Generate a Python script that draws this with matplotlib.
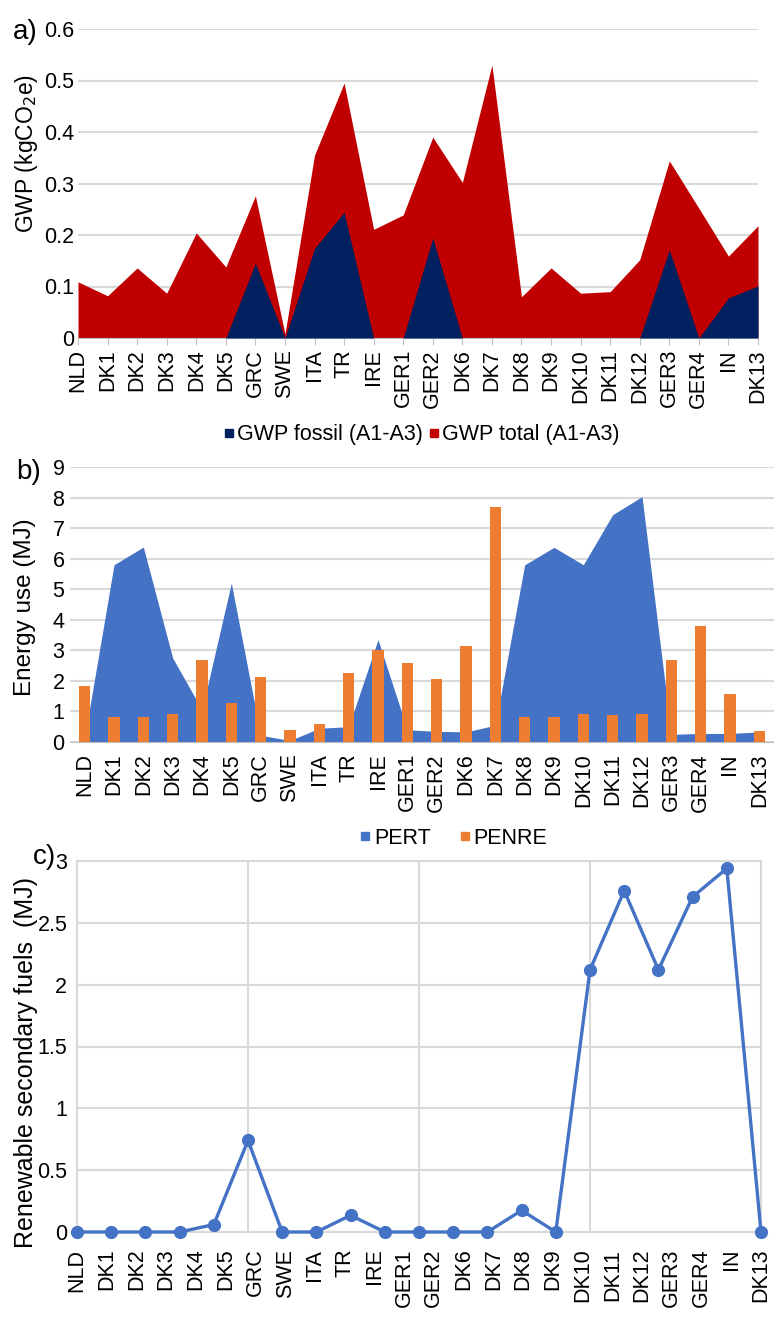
import numpy as np
import matplotlib
matplotlib.use("Agg")
import matplotlib.pyplot as plt
from matplotlib.lines import Line2D

plt.rcParams['font.family'] = ['Liberation Sans', 'DejaVu Sans']

# categories (24 plants)
sites = ["NLD", "DK1", "DK2", "DK3", "DK4", "DK5", "GRC", "SWE", "ITA", "TR",
         "IRE", "GER1", "GER2", "DK6", "DK7", "DK8", "DK9", "DK10", "DK11",
         "DK12", "GER3", "GER4", "IN", "DK13"]

# a) GWP (kgCO2e)
gwp_total = [0.109, 0.082, 0.136, 0.087, 0.204, 0.138, 0.276, 0.008, 0.355, 0.495,
             0.211, 0.239, 0.390, 0.302, 0.530, 0.080, 0.136, 0.087, 0.090, 0.152,
             0.344, 0.252, 0.159, 0.218]
gwp_fossil = [0, 0, 0, 0, 0, 0, 0.145, 0, 0.174, 0.244,
              0, 0, 0.194, 0, 0, 0, 0, 0, 0, 0,
              0.171, 0, 0.078, 0.101]

# b) energy use (MJ)
pert = [0.15, 5.8, 6.38, 2.75, 1.05, 5.2, 0.22, 0.05, 0.45, 0.5,
        3.35, 0.4, 0.35, 0.33, 0.55, 5.8, 6.37, 5.8, 7.44, 8.03,
        0.25, 0.28, 0.28, 0.33]
penre = [1.84, 0.82, 0.83, 0.93, 2.69, 1.28, 2.13, 0.39, 0.59, 2.26,
         3.0, 2.6, 2.05, 3.15, 7.7, 0.82, 0.82, 0.92, 0.9, 0.93,
         2.7, 3.8, 1.57, 0.37]

# c) renewable secondary fuels (MJ), 21 points on the chart
rsf = [0, 0, 0, 0, 0.06, 0.74, 0, 0, 0.135, 0, 0, 0, 0, 0.175, 0,
       2.12, 2.76, 2.12, 2.71, 2.94, 0]

RED = "#C00000"
NAVY = "#002060"
BLUE = "#4472C4"
ORANGE = "#ED7D31"
GRID = "#D9D9D9"
FS = 15.5

W, H = 774, 1325
fig = plt.figure(figsize=(W / 100, H / 100), dpi=100)


def box(l, t, r, b):
    return [l / W, 1 - b / H, (r - l) / W, (b - t) / H]


x = np.arange(len(sites))

# ---- panel a
ax = fig.add_axes(box(78, 29, 758, 338))
ax.fill_between(x, gwp_total, color=RED, lw=0, zorder=2)
ax.fill_between(x, gwp_fossil, color=NAVY, lw=0, zorder=3)
ax.set_xlim(0, len(sites) - 1)
ax.set_ylim(0, 0.6)
ax.set_yticks([0, 0.1, 0.2, 0.3, 0.4, 0.5, 0.6])
ax.set_yticklabels(["0", "0.1", "0.2", "0.3", "0.4", "0.5", "0.6"])
ax.set_xticks(x)
ax.set_xticklabels(sites, rotation=90)
ax.grid(axis='y', color=GRID, lw=1.5, zorder=0)
for s in ['left', 'right', 'top']:
    ax.spines[s].set_visible(False)
ax.spines['bottom'].set_color("#BFBFBF")
ax.tick_params(axis='x', length=5, color="#BFBFBF", labelsize=FS, pad=3)
ax.tick_params(axis='y', length=0, labelsize=FS, pad=3)
ax.set_axisbelow(True)
fig.text(27 / W, 1 - 154 / H, "GWP (kgCO$_2$e)", rotation=90, fontsize=16.5,
         ha='center', va='center')
fig.text(13 / W, 1 - 32 / H, "a)", fontsize=20, ha='left', va='center')
fig.legend(handles=[Line2D([], [], ls='', marker='s', ms=6, color=NAVY),
                    Line2D([], [], ls='', marker='s', ms=6, color=RED)],
           labels=["GWP fossil (A1-A3)", "GWP total (A1-A3)"],
           loc='center', bbox_to_anchor=(421 / W, 1 - 435 / H), ncol=2,
           frameon=False, fontsize=FS, handlelength=0.6, handletextpad=0.1,
           columnspacing=0.2, borderpad=0)

# ---- panel b
ax = fig.add_axes(box(70, 467, 774, 742))
ax.fill_between(x, pert, color=BLUE, lw=0, zorder=2)
ax.bar(x, penre, width=0.38, color=ORANGE, zorder=3)
ax.set_xlim(-0.5, len(sites) - 0.5)
ax.set_ylim(0, 9)
ax.set_yticks(range(10))
ax.set_xticks(x)
ax.set_xticklabels(sites, rotation=90)
ax.grid(axis='y', color=GRID, lw=1.5, zorder=0)
for s in ['left', 'right', 'top']:
    ax.spines[s].set_visible(False)
ax.spines['bottom'].set_color("#BFBFBF")
ax.tick_params(axis='x', length=0, labelsize=FS, pad=8)
ax.tick_params(axis='y', length=0, labelsize=FS, pad=4)
ax.set_axisbelow(True)
fig.text(25 / W, 1 - 607 / H, "Energy use (MJ)", rotation=90, fontsize=17.5,
         ha='center', va='center')
fig.text(16 / W, 1 - 472 / H, "b)", fontsize=20, ha='left', va='center')
fig.legend(handles=[Line2D([], [], ls='', marker='s', ms=6, color=BLUE),
                    Line2D([], [], ls='', marker='s', ms=6, color=ORANGE)],
           labels=["PERT", "PENRE"],
           loc='center', bbox_to_anchor=(453 / W, 1 - 838 / H), ncol=2,
           frameon=False, fontsize=FS, handlelength=0.6, handletextpad=0.1,
           columnspacing=1.3, borderpad=0)

# ---- panel c
ax = fig.add_axes(box(77, 861, 761, 1232))
xc = np.arange(len(rsf))
ax.plot(xc, rsf, color=BLUE, lw=2.4, marker='o', ms=8.5, clip_on=False, zorder=3)
ax.set_xlim(0, len(rsf) - 1)
ax.set_ylim(0, 3)
ax.set_yticks([0, 0.5, 1, 1.5, 2, 2.5, 3])
ax.set_yticklabels(["0", "0.5", "1", "1.5", "2", "2.5", "3"])
ax.set_xticks(np.linspace(0, len(rsf) - 1, len(sites)))
ax.set_xticklabels(sites, rotation=90)
ax.set_xticks([5, 10, 15], minor=True)
ax.grid(axis='y', which='major', color=GRID, lw=1.5, zorder=0)
ax.grid(axis='x', which='minor', color=GRID, lw=1.5, zorder=0)
for s in ax.spines.values():
    s.set_color(GRID)
    s.set_linewidth(1.5)
ax.tick_params(axis='x', which='both', length=0, labelsize=FS, pad=12)
ax.tick_params(axis='y', length=0, labelsize=FS, pad=7)
ax.set_axisbelow(True)
fig.text(26 / W, 1 - 1062 / H, "Renewable secondary fuels  (MJ)", rotation=90,
         fontsize=18, ha='center', va='center')
fig.text(44 / W, 1 - 857 / H, "c)", fontsize=20, ha='center', va='center')

fig.savefig("out.png", dpi=100)
